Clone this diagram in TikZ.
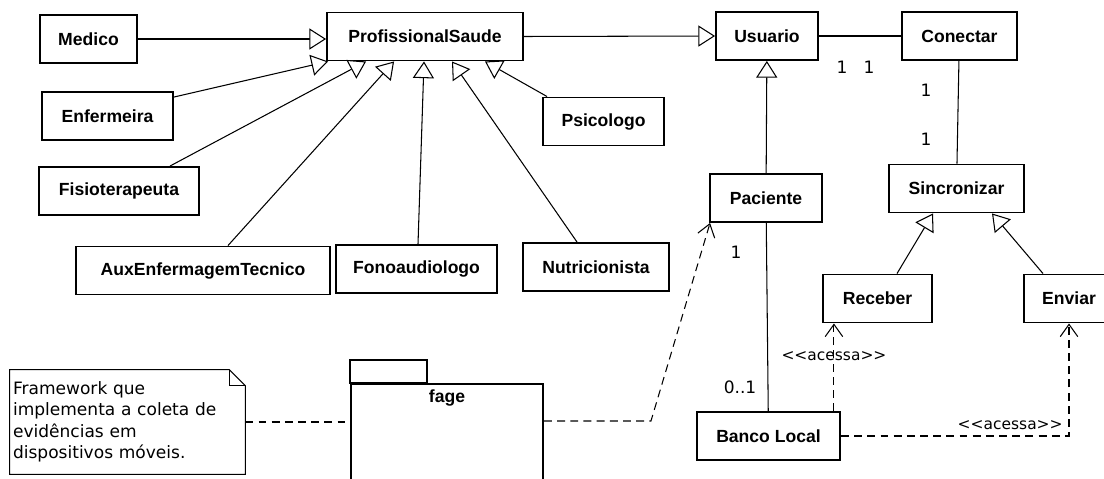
\documentclass[tikz,border=0pt]{standalone}
\usepackage{fontspec}
\setsansfont{Liberation Sans}
\newfontfamily\dejavu{DejaVu Sans}
\usetikzlibrary{positioning, arrows.meta, calc}

\begin{document}
\begin{tikzpicture}[
        x=0.02cm, y=-0.02cm,
        cls/.style={draw, line width=1.1pt, minimum height=0.96cm, inner sep=0pt,
            font=\sffamily\bfseries\fontsize{10}{12}\selectfont},
        gen/.style={-{Triangle[length=9.5pt, width=12pt, fill=white]}, line width=0.6pt},
        assoc/.style={line width=0.6pt},
        dashline/.style={line width=0.6pt, dash pattern=on 4.5pt off 3pt},
        dep/.style={dashline, -{Straight Barb[length=7pt, width=10pt]}},
        mult/.style={font=\dejavu\fontsize{9.7}{12}\selectfont, inner sep=0pt},
        stereo/.style={font=\dejavu\fontsize{8.8}{10}\selectfont, inner sep=0pt}
    ]
    \useasboundingbox (0,0) rectangle (1104,479);
    \clip (0,0) rectangle (1104,479);

    % classes
    \node[cls, minimum width=1.94cm] (medico)     at (88.5,39)    {Medico};
    \node[cls, minimum width=3.92cm] (prof)       at (425,36.5)   {ProfissionalSaude};
    \node[cls, minimum width=2.04cm] (usuario)    at (767,36)     {Usuario};
    \node[cls, minimum width=2.3cm, right=1.64cm of usuario] (conectar) {Conectar};
    \node[cls, minimum width=2.62cm] (enfermeira) at (107.5,116)  {Enfermeira};
    \node[cls, minimum width=3.2cm]  (fisio)      at (119,191)    {Fisioterapeuta};
    \node[cls, minimum width=2.42cm] (psicologo)  at (603.5,121.5){Psicologo};
    \node[cls, minimum width=5.08cm] (auxenf)     at (203,270.5)  {AuxEnfermagemTecnico};
    \node[cls, minimum width=3.22cm] (fono)       at (416.5,269)  {Fonoaudiologo};
    \node[cls, minimum width=2.92cm] (nutri)      at (596,267)    {Nutricionista};
    \node[cls, minimum width=2.24cm] (paciente)   at (766,198)    {Paciente};
    \node[cls, minimum width=2.7cm]  (sinc)       at (956.5,188.5){Sincronizar};
    \node[cls, minimum width=2.18cm] (receber)    at (877.5,298.5){Receber};
    \node[cls, minimum width=1.8cm]  (enviar)     at (1069,298.5) {Enviar};
    \node[cls, minimum width=2.86cm] (banco)      at (768.5,436)  {Banco Local};

    % package fage
    \node[draw, line width=1.1pt, minimum width=3.84cm, minimum height=2.4cm, anchor=north] (fage) at (447,383) {};
    \node[font=\sffamily\bfseries\fontsize{10}{12}\selectfont, inner sep=0pt, below=0.12cm of fage.north] (fagetxt) {fage};
    \draw[line width=1.1pt] (fage.north west) rectangle ++(77,-23);

    % note
    \node[font=\dejavu\fontsize{9.7}{12.2}\selectfont, minimum width=4.7cm, minimum height=2.08cm,
          text width=4.58cm, align=left, inner sep=0.06cm] (nota) at (127.5,422)
          {Framework que\\implementa a coleta de\\evidências em\\dispositivos móveis.};
    \draw[line width=0.6pt] (nota.south west) -- (nota.north west) -- ($(nota.north east)+(-16,0)$)
        -- ($(nota.north east)+(0,16)$) -- (nota.south east) -- cycle;
    \draw[line width=0.6pt] ($(nota.north east)+(-16,0)$) -- ($(nota.north east)+(-16,16)$) -- ($(nota.north east)+(0,16)$);

    % generalizations
    \draw[gen] (medico.east) -- (medico.east -| prof.west);
    \draw[gen] ($(enfermeira.north east)+(0,6)$) -- ($(prof.south west)+(2,0)$);
    \draw[gen] ($(fisio.north)+(51,0)$) -- ($(prof.south west)+(40,0)$);
    \draw[gen] ($(auxenf.north)+(25,0)$) -- ($(prof.south west)+(68,0)$);
    \draw[gen] ($(fono.north)+(1.5,0)$) -- ($(prof.south)+(-1,0)$);
    \draw[gen] ($(nutri.north)+(-19,0)$) -- ($(prof.south)+(27,0)$);
    \draw[gen] ($(psicologo.north west)+(5,0)$) -- ($(prof.south)+(60,0)$);
    \draw[gen] (prof.east) -- (usuario.west);
    \draw[gen] (paciente) -- (usuario);
    \draw[gen] ($(receber.north)+(19.5,0)$) -- ($(sinc.south)+(-23.5,0)$);
    \draw[gen] ($(enviar.north)+(-26,0)$) -- ($(sinc.south)+(35.5,0)$);

    % associations
    \draw[assoc] (usuario) -- (conectar);
    \draw[assoc] (conectar) -- (sinc);
    \draw[assoc] (paciente) -- (banco);
    \node[mult] (m1) at (842,67)  {1};
    \node[mult] (m2) at (869,67)  {1};
    \node[mult] (m3) at (926,90)  {1};
    \node[mult] (m4) at (926,139) {1};
    \node[mult] (m5) at (736,252) {1};
    \node[mult] (m6) at (740,387) {0..1};

    % dependencies
    \draw[dep] ($(banco.north east)+(-7,0)$) coordinate (b1) -- (b1 |- receber.south)
        node[stereo, pos=0.63] {<<acessa>>};
    \draw[dep] (banco.east) -| (enviar.south)
        node[stereo, pos=0.371, yshift=0.22cm] {<<acessa>>};
    \draw[dep] ($(fage.north east)+(0,38)$) -- ++(107,0) -- ($(paciente.south west)+(1,0)$);
    \draw[dashline] (nota.east) -- (nota.east -| fage.west);
\end{tikzpicture}
\end{document}
